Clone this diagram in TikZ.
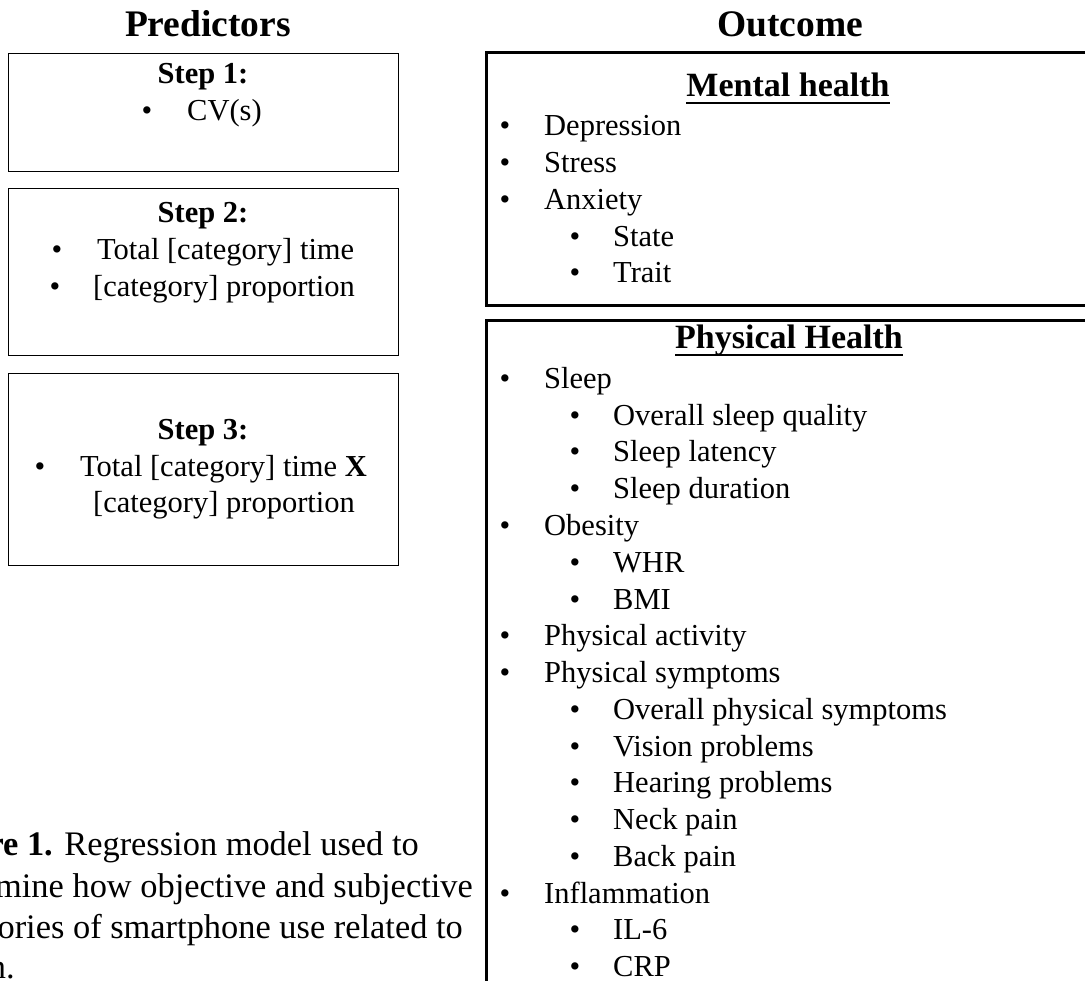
\documentclass[tikz,border=0pt]{standalone}
\usepackage{fontspec}
\setmainfont{Liberation Serif}
\usetikzlibrary{calc}
\newcommand{\bodyfont}{\fontsize{30.5}{36.7}\selectfont}
\newcommand{\titlefont}{\fontsize{37.5}{45}\selectfont\bfseries}
\newcommand{\headfont}{\fontsize{34}{40}\selectfont\bfseries}
\newcommand{\capfont}{\fontsize{34.4}{40.5}\selectfont}
\begin{document}
\begin{tikzpicture}[x=1pt,y=-1pt,
  lbox/.style={draw=black, line width=1.3pt, anchor=north west, inner sep=0pt},
  rbox/.style={draw=black, line width=2.6pt, anchor=north west, inner sep=0pt},
  item/.style={inner sep=0pt, anchor=base west, font=\bodyfont},
  bul/.style={inner sep=0pt, anchor=base, font=\bodyfont},
  stephead/.style={inner sep=0pt, anchor=base, font=\bodyfont\bfseries},
  ttl/.style={inner sep=0pt, anchor=base, font=\titlefont},
  hdr/.style={inner sep=0pt, anchor=base, font=\headfont},
  capl/.style={inner sep=0pt, anchor=base east, font=\capfont},
  uline/.style={line width=2pt}]
\useasboundingbox (0,0) rectangle (1085,981);
\clip (0,0) rectangle (1085,981);

% titles
\node[ttl] (pred) at (208,37) {Predictors};
\node[ttl] (outc) at (790,37) {Outcome};

% left boxes
\node[lbox, minimum width=390pt, minimum height=118pt] (box1) at (8,53) {};
\node[lbox, minimum width=390pt, minimum height=167pt] (box2) at (8,188) {};
\node[lbox, minimum width=390pt, minimum height=192pt] (box3) at (8,373) {};

\node[stephead] (s1) at (203,84) {Step 1:};
\node[bul] (s1b1) at (147,121) {•};
\node[item] (s1t1) at (187,121) {CV(s)};

\node[stephead] (s2) at (203,223) {Step 2:};
\node[bul] (s2b1) at (57,260) {•};
\node[item] (s2t1) at (97,260) {Total [category] time};
\node[bul] (s2b2) at (55,297) {•};
\node[item] (s2t2) at (93,297) {[category] proportion};

\node[stephead] (s3) at (203,440) {Step 3:};
\node[bul] (s3b1) at (40,477) {•};
\node[item] (s3t1) at (80,477) {Total [category] time \textbf{X}};
\node[item] (s3t2) at (93,513) {[category] proportion};

% right boxes
\node[rbox, minimum width=615pt, minimum height=253pt] (mbox) at (485,51) {};
\node[rbox, minimum width=615pt, minimum height=663pt] (pbox) at (485,319) {};

\node[hdr] (mh) at (788,97) {Mental health};
\draw[uline] ($(mh.base west)+(0,6)$) -- ($(mh.base east)+(0,6)$);
\node[hdr] (ph) at (789,349) {Physical Health};
\draw[uline] ($(ph.base west)+(0,6)$) -- ($(ph.base east)+(0,6)$);

% mental items
\foreach \lvl/\txt [count=\i from 0] in {0/Depression,0/Stress,0/Anxiety,1/State,1/Trait}{
  \pgfmathsetmacro{\yy}{136+36.7*\i}
  \ifnum\lvl=0
    \node[bul] (mb\i) at (505,\yy) {•};
    \node[item] (mt\i) at (544,\yy) {\txt};
  \else
    \node[bul] (mb\i) at (575,\yy) {•};
    \node[item] (mt\i) at (613,\yy) {\txt};
  \fi
}

% physical items
\foreach \lvl/\txt [count=\i from 0] in {0/Sleep,1/Overall sleep quality,1/Sleep latency,1/Sleep duration,0/Obesity,1/WHR,1/BMI,0/Physical activity,0/Physical symptoms,1/Overall physical symptoms,1/Vision problems,1/Hearing problems,1/Neck pain,1/Back pain,0/Inflammation,1/IL-6,1/CRP}{
  \pgfmathsetmacro{\yy}{388.5+36.75*\i}
  \ifnum\lvl=0
    \node[bul] (pb\i) at (505,\yy) {•};
    \node[item] (pt\i) at (544,\yy) {\txt};
  \else
    \node[bul] (pb\i) at (575,\yy) {•};
    \node[item] (pt\i) at (613,\yy) {\txt};
  \fi
}

% caption
\node[capl] (cap1) at (419,855) {\textbf{re 1.} Regression model used to};
\node[capl] (cap2) at (473,897) {mine how objective and subjective};
\node[capl] (cap3) at (463,938) {ories of smartphone use related to};
\node[capl] (cap4) at (15,978) {n.};
\end{tikzpicture}
\end{document}
